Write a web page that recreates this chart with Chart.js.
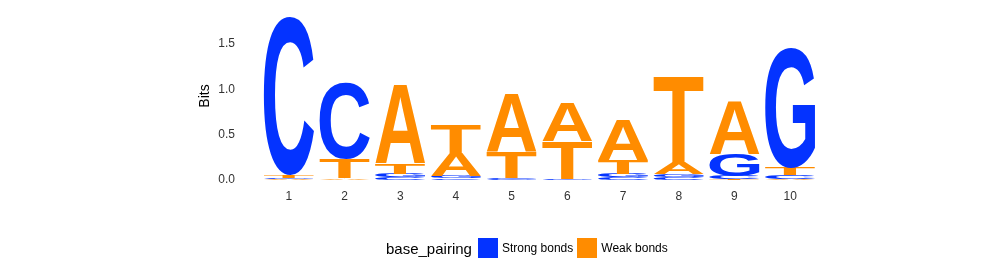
<!DOCTYPE html>
<html>
<head>
<meta charset="utf-8">
<script src="https://cdn.jsdelivr.net/npm/chart.js@4"></script>
<style>
  html, body { margin: 0; padding: 0; background: #fff; }
  #wrap { position: relative; width: 1000px; height: 270px; }
  #logo { position: absolute; left: 0; top: 0; }
  #legend { position: absolute; left: 386px; top: 238px; height: 20px; display: flex; align-items: center;
            font-family: "Liberation Sans", Arial, sans-serif; color: #000; }
  #legend .title { font-size: 15px; margin-right: 6px; }
  #legend .sw { width: 20px; height: 20px; margin-right: 4px; }
  #legend .lab { font-size: 12px; margin-right: 4px; }
</style>
</head>
<body>
<div id="wrap">
  <canvas id="logo" width="1000" height="270"></canvas>
  <div id="legend"></div>
</div>
<script>
// positions along the motif
const positions = ["1", "2", "3", "4", "5", "6", "7", "8", "9", "10"];
const letters = ["A", "C", "G", "T"];

// information content (bits) of each base at each position
const bitsA = [0.01, 0.02, 0.86, 0.25, 0.64, 0.43, 0.445, 0.12, 0.58, 0.01];
const bitsC = [1.74, 0.84, 0.03, 0.02, 0.015, 0.005, 0.03, 0.03, 0.035, 0.045];
const bitsG = [0.01, 0.005, 0.04, 0.025, 0.01, 0.01, 0.04, 0.03, 0.24, 1.32];
const bitsT = [0.03, 0.21, 0.11, 0.315, 0.28, 0.41, 0.15, 0.96, 0.01, 0.085];

const yTicks = [0, 0.5, 1.0, 1.5];

const groupNames = ["Strong bonds", "Weak bonds"];
const groupColors = ["#0433FF", "#FF8C00"];
const letterGroup = { A: 1, T: 1, C: 0, G: 0 };

// stack order: smallest letter at the bottom of each column
const byLetter = { A: bitsA, C: bitsC, G: bitsG, T: bitsT };
const rankLetters = [[], [], [], []];
const rankValues = [[], [], [], []];
positions.forEach((p, i) => {
    const col = letters.map(l => ({ l: l, v: byLetter[l][i] }));
    col.sort((a, b) => a.v - b.v);
    col.forEach((c, r) => {
        rankLetters[r].push(c.l);
        rankValues[r].push(c.v);
    });
});

const glyphCache = {};
function glyphBox(ctx, letter) {
    if (glyphCache[letter]) return glyphCache[letter];
    ctx.save();
    ctx.font = 'bold 200px "Liberation Sans", Arial, sans-serif';
    const m = ctx.measureText(letter);
    ctx.restore();
    glyphCache[letter] = {
        left: m.actualBoundingBoxLeft,
        w: m.actualBoundingBoxLeft + m.actualBoundingBoxRight,
        asc: m.actualBoundingBoxAscent,
        h: m.actualBoundingBoxAscent + m.actualBoundingBoxDescent
    };
    return glyphCache[letter];
}

// draws each stacked bar as a letter stretched to fill its box
const letterPlugin = {
    id: "letters",
    afterDatasetsDraw(chart) {
        const ctx = chart.ctx;
        chart.data.datasets.forEach((ds, di) => {
            const meta = chart.getDatasetMeta(di);
            meta.data.forEach((bar, i) => {
                const p = bar.getProps(["x", "y", "base", "width"], true);
                const top = Math.min(p.y, p.base);
                const h = Math.abs(p.base - p.y);
                if (h <= 0) return;
                const letter = ds.letters[i];
                const g = glyphBox(ctx, letter);
                ctx.save();
                ctx.fillStyle = groupColors[letterGroup[letter]];
                ctx.font = 'bold 200px "Liberation Sans", Arial, sans-serif';
                ctx.textAlign = "left";
                ctx.textBaseline = "alphabetic";
                ctx.translate(p.x - p.width / 2, top);
                ctx.scale(p.width / g.w, h / g.h);
                ctx.fillText(letter, g.left, g.asc);
                ctx.restore();
            });
        });
    }
};

new Chart(document.getElementById("logo"), {
    type: "bar",
    data: {
        labels: positions,
        datasets: rankValues.map((vals, r) => ({
            label: "rank" + r,
            data: vals,
            letters: rankLetters[r],
            backgroundColor: "rgba(0,0,0,0)",
            borderWidth: 0,
            barPercentage: 0.9,
            categoryPercentage: 1.0
        }))
    },
    options: {
        responsive: false,
        animation: false,
        events: [],
        layout: { padding: { left: 193, right: 182, top: 12, bottom: 60 } },
        plugins: { legend: { display: false }, tooltip: { enabled: false } },
        scales: {
            x: {
                stacked: true,
                grid: { display: false, drawTicks: false },
                border: { display: false },
                ticks: { padding: 9, color: "#333", font: { family: "Liberation Sans", size: 12 } },
                afterFit: s => { s.height = 30; }
            },
            y: {
                stacked: true,
                min: 0,
                max: 1.85,
                grid: { display: false, drawTicks: true, tickLength: 26 },
                border: { display: false },
                afterBuildTicks: s => { s.ticks = yTicks.map(v => ({ value: v })); },
                ticks: {
                    padding: 0,
                    color: "#333",
                    font: { family: "Liberation Sans", size: 12 },
                    callback: v => Number(v).toFixed(1)
                },
                title: {
                    display: true,
                    text: "Bits",
                    color: "#000",
                    font: { family: "Liberation Sans", size: 14 }
                },
                afterFit: s => { s.width = 68; }
            }
        }
    },
    plugins: [letterPlugin]
});

// legend below the plot
const legend = document.getElementById("legend");
let html = '<span class="title">base_pairing</span>';
groupNames.forEach((n, i) => {
    html += '<span class="sw" style="background:' + groupColors[i] + '"></span><span class="lab">' + n + '</span>';
});
legend.innerHTML = html;
</script>
</body>
</html>
